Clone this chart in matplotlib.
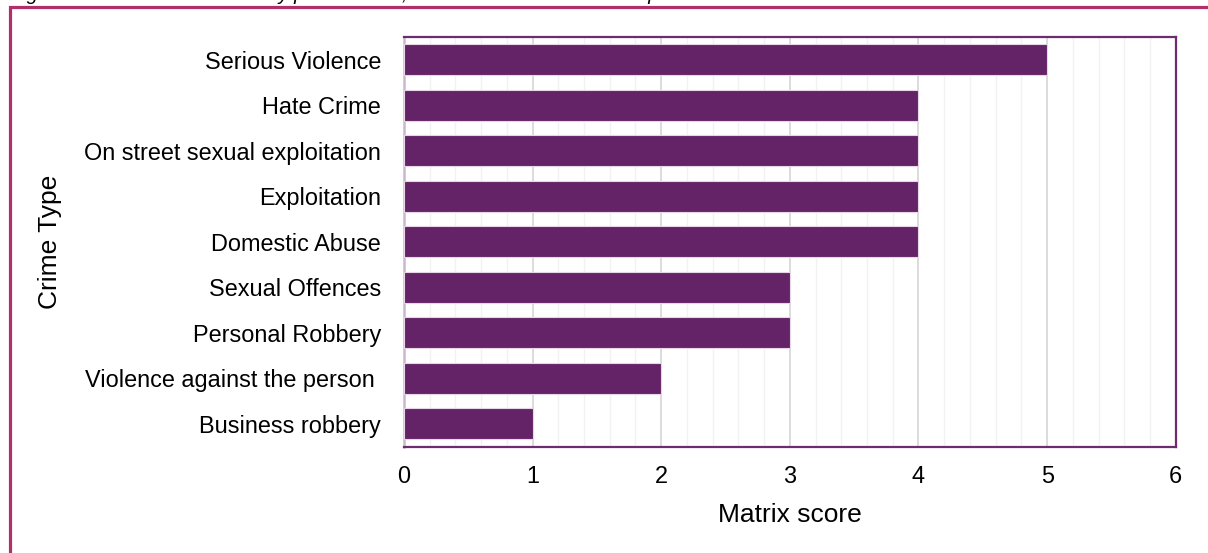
import matplotlib.pyplot as plt
from matplotlib.patches import Rectangle
from matplotlib.ticker import MultipleLocator

plt.rcParams['font.family'] = ['Liberation Sans', 'DejaVu Sans']

crime_types = ['Serious Violence', 'Hate Crime', 'On street sexual exploitation',
               'Exploitation', 'Domestic Abuse', 'Sexual Offences',
               'Personal Robbery', 'Violence against the person ', 'Business robbery']
scores = [5, 4, 4, 4, 4, 3, 3, 2, 1]
x_ticks = [0, 1, 2, 3, 4, 5, 6]

bar_col = '#632366'
frame_col = '#B2306A'

fig = plt.figure(figsize=(12.08, 5.53), dpi=100)
ax = fig.add_axes([0.3344, 0.1922, 0.6389, 0.7409])

pos = list(range(len(crime_types)))
ax.barh(pos, scores, height=0.68, color=bar_col, edgecolor='#E6D6E6', linewidth=0.8, zorder=3)
ax.set_ylim(len(crime_types) - 0.5, -0.5)
ax.set_yticks(pos)
ax.set_yticklabels(crime_types, fontsize=16.9)

ax.set_xlim(0, 6)
ax.set_xticks(x_ticks)
ax.set_xticklabels([str(t) for t in x_ticks], fontsize=16.9)
ax.xaxis.set_minor_locator(MultipleLocator(0.2))
ax.grid(axis='x', which='major', color='#D9D9D9', linewidth=1.3, zorder=0)
ax.grid(axis='x', which='minor', color='#F2F2F2', linewidth=1.0, zorder=0)
ax.tick_params(axis='both', which='both', length=0)
ax.tick_params(axis='y', pad=16.5)
ax.tick_params(axis='x', pad=13)

for s in ['top', 'right', 'bottom']:
    ax.spines[s].set_color('#6E2C70')
    ax.spines[s].set_linewidth(1.6)
ax.spines['left'].set_color('#CDB6CD')
ax.spines['left'].set_linewidth(1.8)

ax.set_xlabel('Matrix score', fontsize=19, labelpad=11)
ax.set_ylabel('Crime Type', fontsize=19)
ax.yaxis.set_label_coords((62 - 404) / 772, 0.5)

# outer frame, runs off the right and bottom edges
fig.patches.append(Rectangle((9.5 / 1208, -0.1), 1.2, 1.1 - 7.5 / 553,
                             transform=fig.transFigure, fill=False,
                             edgecolor=frame_col, linewidth=2.3))

# caption cut off at the top edge of the picture
fig.text(10 / 1208, 1 + 0.5 / 553,
         'Figure 3: Crime matrix score by prioritisation, based on the crime matrix process',
         fontsize=14.4, style='italic', va='baseline', ha='left')

fig.savefig('out.png', dpi=100)
